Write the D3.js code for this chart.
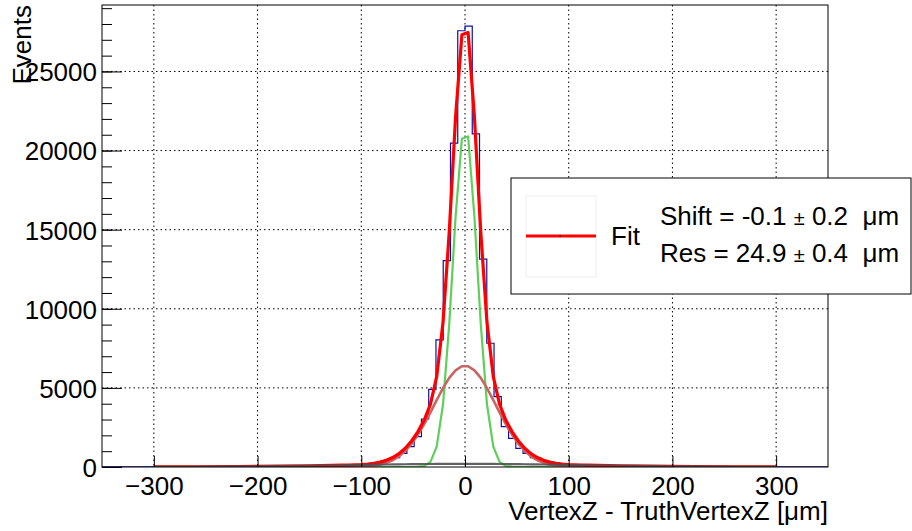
<!DOCTYPE html>
<html lang="en">
<head>
<meta charset="utf-8">
<title>VertexZ resolution</title>
<script src="https://cdn.jsdelivr.net/npm/d3@7"></script>
<style>
  body { margin: 0; background: #fff; }
  text { font-family: "Liberation Sans", Arial, Helvetica, sans-serif; }
</style>
</head>
<body>
<script type="text/javascript">

// histogram: 100 bins from -350 to 350 um
var histRange = [-350, 350];
var binCounts = [
  3, 4, 4, 5, 5, 6, 6, 6, 7, 7,
  8, 10, 11, 13, 15, 17, 20, 22, 26, 30,
  34, 38, 42, 47, 53, 58, 64, 71, 78, 85,
  92, 100, 108, 118, 131, 150, 180, 232, 330, 440,
  590, 866, 1285, 1918, 3035, 4912, 8031, 13046, 20472, 27574,
  27870, 21059, 13134, 7822, 4447, 2550, 1813, 1180, 866, 590,
  443, 345, 250, 190, 152, 133, 119, 109, 99, 93,
  86, 77, 70, 63, 59, 52, 46, 43, 37, 33,
  29, 27, 23, 19, 17, 15, 13, 11, 9, 8,
  7, 7, 6, 6, 5, 5, 4, 4, 3, 3
];

// fit curve points (as drawn), x in um
var fitX = [-300, -260, -220, -180, -150,
  -118.2, -112.1, -106.1, -100.0, -93.9, -87.9, -81.8, -75.8, -69.7, -63.6, -57.6,
  -51.5, -45.5, -39.4, -33.3, -27.3, -21.2, -15.2, -9.1, -3.0,
  3.0, 9.1, 15.2, 21.2, 27.3, 33.3, 39.4, 45.5, 51.5,
  57.6, 63.6, 69.7, 75.8, 81.8, 87.9, 93.9, 100.0, 106.1, 112.1, 118.2,
  150, 180, 220, 260, 300];
var fitNarrow = [0, 0, 0, 0, 0,
  0, 0, 0, 0, 0, 0, 0, 0, 0, 0, 0,
  0, 9, 61, 327, 1291, 3950, 9022, 15801, 20750,
  20890, 15801, 9022, 3950, 1291, 327, 61, 9, 0,
  0, 0, 0, 0, 0, 0, 0, 0, 0, 0, 0,
  0, 0, 0, 0, 0];
var fitWide = [0, 0, 0, 0, 0,
  3, 6, 12, 25, 48, 87, 156, 263, 431, 677, 1013,
  1466, 2026, 2701, 3457, 4230, 4986, 5629, 6112, 6368,
  6368, 6112, 5629, 4986, 4230, 3457, 2701, 2026, 1466,
  1013, 677, 431, 263, 156, 87, 48, 25, 12, 6, 3,
  0, 0, 0, 0, 0];
var fitBkg = [5, 12, 27, 52, 79,
  112, 119, 126, 132, 139, 145, 152, 158, 164, 169, 174,
  179, 184, 188, 191, 194, 196, 198, 199, 200,
  200, 199, 198, 196, 194, 191, 188, 184, 179,
  174, 169, 164, 158, 152, 145, 139, 132, 126, 119, 112,
  79, 52, 27, 12, 5];
var fitTotal = [5, 12, 27, 52, 79,
  115, 125, 138, 157, 187, 232, 308, 421, 595, 846, 1187,
  1645, 2219, 2950, 3975, 5715, 9132, 14849, 22112, 27318,
  27458, 22112, 14849, 9132, 5715, 3975, 2950, 2219, 1645,
  1187, 846, 595, 421, 308, 232, 187, 157, 138, 125, 115,
  79, 52, 27, 12, 5];

var xTicks = [-300, -200, -100, 0, 100, 200, 300];
var yTicks = [0, 5000, 10000, 15000, 20000, 25000];
var yMinor = d3.range(0, 29001, 1000);

var width = 912;
var height = 531;
var fLeft = 102, fRight = 828, fTop = 5, fBottom = 467;

var x = d3.scaleLinear().domain(histRange).range([fLeft, fRight]);
var y = d3.scaleLinear().domain([0, 29200]).range([fBottom, fTop]);

var svg = d3.select("body")
            .append("svg")
            .attr("width", width)
            .attr("height", height);

svg.append("defs").append("clipPath").attr("id", "frame")
   .append("rect")
   .attr("x", fLeft).attr("y", fTop)
   .attr("width", fRight - fLeft).attr("height", fBottom - fTop);

// grid
svg.append("g").selectAll("line")
   .data(xTicks)
   .enter().append("line")
   .attr("x1", function(d) { return x(d); })
   .attr("x2", function(d) { return x(d); })
   .attr("y1", fTop).attr("y2", fBottom)
   .attr("stroke", "#000").attr("stroke-width", 1)
   .attr("stroke-dasharray", "1.5,3");

svg.append("g").selectAll("line")
   .data(yTicks.slice(1))
   .enter().append("line")
   .attr("x1", fLeft).attr("x2", fRight)
   .attr("y1", function(d) { return y(d); })
   .attr("y2", function(d) { return y(d); })
   .attr("stroke", "#000").attr("stroke-width", 1)
   .attr("stroke-dasharray", "1.5,3");

// histogram outline
var bw = (histRange[1] - histRange[0]) / binCounts.length;
var histPts = [[histRange[0], 0]];
binCounts.forEach(function(c, i) {
  histPts.push([histRange[0] + i * bw, c]);
  histPts.push([histRange[0] + (i + 1) * bw, c]);
});
histPts.push([histRange[1], 0]);

var plot = svg.append("g").attr("clip-path", "url(#frame)");

plot.append("path")
    .attr("d", d3.line().x(function(d) { return x(d[0]); }).y(function(d) { return y(d[1]); })(histPts))
    .attr("fill", "none")
    .attr("stroke", "#1010a0")
    .attr("stroke-width", 1.2);

var curve = d3.line()
              .x(function(d) { return x(d[0]); })
              .y(function(d) { return y(d[1]); });

function drawFit(vals, color, w) {
  plot.append("path")
      .attr("d", curve(fitX.map(function(v, i) { return [v, vals[i]]; })))
      .attr("fill", "none")
      .attr("stroke", color)
      .attr("stroke-width", w)
      .attr("stroke-linejoin", "round");
}

drawFit(fitNarrow, "#5ed05a", 2.2);
drawFit(fitWide, "#c86464", 2.6);
drawFit(fitTotal, "#ff0000", 3.2);
drawFit(fitBkg, "rgba(80,80,80,0.9)", 2.2);

// frame
svg.append("rect")
   .attr("x", fLeft).attr("y", fTop)
   .attr("width", fRight - fLeft).attr("height", fBottom - fTop)
   .attr("fill", "none").attr("stroke", "#000").attr("stroke-width", 1);

// axes
var xAxis = svg.append("g")
   .attr("transform", "translate(0," + fBottom + ")")
   .call(d3.axisBottom(x).tickValues(xTicks).tickSize(-11).tickPadding(9.5)
           .tickFormat(function(d) { return d < 0 ? "\u2212" + (-d) : d; }));

var yAxisMinor = svg.append("g")
   .attr("transform", "translate(" + fLeft + ",0)")
   .call(d3.axisLeft(y).tickValues(yMinor).tickSize(-10).tickFormat(""));

var yAxis = svg.append("g")
   .attr("transform", "translate(" + fLeft + ",0)")
   .call(d3.axisLeft(y).tickValues(yTicks).tickSize(-20).tickPadding(5)
           .tickFormat(function(d) { return d; }));

[xAxis, yAxis, yAxisMinor].forEach(function(a) {
  a.select(".domain").remove();
  a.selectAll("line").attr("stroke", "#000");
  a.selectAll("text")
   .attr("fill", "#000")
   .attr("font-size", 26)
   .style("font-family", "'Liberation Sans', Arial, Helvetica, sans-serif");
});
yAxis.selectAll("text").attr("dy", "0.36em");

// titles
svg.append("text")
   .attr("x", fRight).attr("y", 520)
   .attr("text-anchor", "end")
   .attr("font-size", 26)
   .text("VertexZ - TruthVertexZ [\u03bcm]");

svg.append("text")
   .attr("transform", "translate(31,5) rotate(-90)")
   .attr("text-anchor", "end")
   .attr("font-size", 26)
   .text("Events");

// legend
var leg = svg.append("g");
leg.append("rect")
   .attr("x", 511).attr("y", 178).attr("width", 400).attr("height", 116)
   .attr("fill", "#fff").attr("stroke", "#000").attr("stroke-width", 1);
leg.append("rect")
   .attr("x", 526).attr("y", 196).attr("width", 70).attr("height", 81)
   .attr("fill", "#fff").attr("stroke", "#eeeeee").attr("stroke-width", 1);
leg.append("line")
   .attr("x1", 526).attr("x2", 596).attr("y1", 236).attr("y2", 236)
   .attr("stroke", "#ff0000").attr("stroke-width", 3);
leg.append("circle")
   .attr("cx", 560).attr("cy", 236).attr("r", 0.8).attr("fill", "#000");
leg.append("text")
   .attr("x", 611).attr("y", 245)
   .attr("font-size", 26)
   .text("Fit");

var l1 = leg.append("text").attr("x", 660).attr("y", 225).attr("font-size", 26)
            .style("white-space", "pre");
l1.append("tspan").text("Shift = -0.1 ");
l1.append("tspan").attr("font-size", 20).text("\u00b1");
l1.append("tspan").text(" 0.2  \u03bcm");

var l2 = leg.append("text").attr("x", 660).attr("y", 262).attr("font-size", 26)
            .style("white-space", "pre");
l2.append("tspan").text("Res = 24.9 ");
l2.append("tspan").attr("font-size", 20).text("\u00b1");
l2.append("tspan").text(" 0.4  \u03bcm");

</script>
</body>
</html>
